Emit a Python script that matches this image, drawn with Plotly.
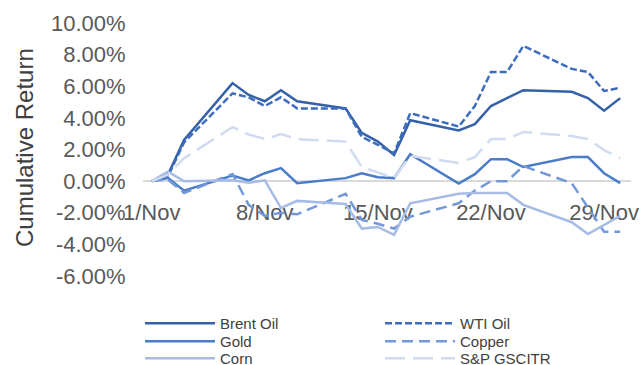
import plotly.graph_objects as go

# Trading days, November 2017
dates = ["2017-11-01", "2017-11-02", "2017-11-03", "2017-11-06", "2017-11-07",
         "2017-11-08", "2017-11-09", "2017-11-10", "2017-11-13", "2017-11-14",
         "2017-11-15", "2017-11-16", "2017-11-17", "2017-11-20", "2017-11-21",
         "2017-11-22", "2017-11-23", "2017-11-24", "2017-11-27", "2017-11-28",
         "2017-11-29", "2017-11-30"]

# Cumulative returns, in percent
brent = [0, 0.4, 2.6, 6.2, 5.45, 5.05, 5.75, 5.05, 4.6, 3.05, 2.5, 1.65, 3.85,
         3.2, 3.6, 4.75, None, 5.75, 5.65, 5.25, 4.45, 5.25]
wti = [0, 0.3, 2.45, 5.55, 5.3, 4.75, 5.3, 4.6, 4.6, 2.8, 2.3, 1.75, 4.3,
       3.45, 4.75, 6.9, 6.9, 8.55, 7.1, 6.9, 5.7, 5.9]
gold = [0, 0.2, -0.6, 0.35, 0.05, 0.5, 0.82, -0.13, 0.19, 0.5, 0.25, 0.19, 1.7,
        -0.16, 0.44, 1.39, 1.39, 0.89, 1.52, 1.52, 0.5, -0.13]
copper = [0, 0.1, -0.75, 0.45, -1.5, -2.2, -2.0, -2.1, -0.8, -2.45, -2.7, -3.0,
          -2.25, -1.4, -0.6, 0.0, 0.0, 0.95, -0.13, -1.65, -3.2, -3.2]
corn = [0, 0.6, 0.0, 0.05, -0.1, 0.05, -1.7, -1.25, -1.45, -3.0, -2.9, -3.4,
        -1.4, -0.8, -0.75, -0.75, -0.75, -1.5, -2.6, -3.35, -2.75, -2.2]
gsci = [0, 0.4, 1.45, 3.42, 2.95, 2.66, 2.97, 2.66, 2.5, 0.89, 0.55, 0.19, 1.6,
        1.15, 1.52, 2.66, 2.66, 3.1, 2.85, 2.66, 1.96, 1.46]

x_tick_dates = ["2017-11-01", "2017-11-08", "2017-11-15", "2017-11-22", "2017-11-29"]
x_tick_labels = ["1/Nov", "8/Nov", "15/Nov", "22/Nov", "29/Nov"]
y_ticks = [-6, -4, -2, 0, 2, 4, 6, 8, 10]
y_tick_labels = [f"{v:.2f}%" for v in y_ticks]
y_title = "Cumulative Return"

FONT = "Liberation Sans, Arial, sans-serif"
W, H = 641, 365
M_L, M_R, M_T, M_B = 143, 10, 23, 89
PW, PH = W - M_L - M_R, H - M_T - M_B

# name, values, colour, dash pattern, legend column (px), legend row (px)
series = [
    ("Brent Oil", brent, "#3561a8", "solid", 140, 307),
    ("WTI Oil", wti, "#3d6cbd", "7px,3px", 380, 307),
    ("Gold", gold, "#4a7cc9", "solid", 140, 325),
    ("Copper", copper, "#7398d8", "11px,6px", 380, 325),
    ("Corn", corn, "#a6bce6", "solid", 140, 342),
    ("S&P GSCITR", gsci, "#cfdbf0", "20px,8px", 380, 342),
]

fig = go.Figure()
legends = {}
for i, (name, vals, color, dash, lx, ly) in enumerate(series):
    key = "legend" if i == 0 else f"legend{i + 1}"
    fig.add_trace(go.Scatter(
        x=dates, y=vals, name=name, mode="lines", connectgaps=True,
        line=dict(color=color, width=2.5, dash=dash),
        legend=key,
    ))
    legends[key] = dict(
        xref="container", yref="container",
        x=lx / W, y=1 - ly / H, xanchor="left", yanchor="top",
        font=dict(size=15, color="#404040", family=FONT),
        itemwidth=70, bgcolor="rgba(0,0,0,0)",
    )

fig.update_layout(
    width=W, height=H,
    margin=dict(l=M_L, r=M_R, t=M_T, b=M_B, autoexpand=False),
    paper_bgcolor="white", plot_bgcolor="white",
    font=dict(family=FONT, color="#595959"),
    xaxis=dict(
        type="date",
        range=["2017-10-31 11:00", "2017-11-30 16:00"],
        tickmode="array", tickvals=x_tick_dates, ticktext=x_tick_labels,
        tickfont=dict(size=22, color="#595959"),
        tickangle=0,
        anchor="free", position=0.375,
        showline=True, linecolor="#d9d9d9", linewidth=2,
        showgrid=False, zeroline=False,
        ticks="outside", ticklen=0, ticklabelstandoff=11,
        layer="below traces",
    ),
    yaxis=dict(
        range=[-6, 10],
        tickmode="array", tickvals=y_ticks, ticktext=y_tick_labels,
        tickfont=dict(size=22, color="#595959"),
        showgrid=False, zeroline=False, showline=False,
        ticks="outside", ticklen=0, ticklabelstandoff=12,
    ),
    annotations=[dict(
        text=y_title, textangle=-90,
        xref="paper", yref="paper",
        x=(24 - M_L) / PW, y=(H - M_B - 148) / PH,
        xanchor="center", yanchor="middle",
        showarrow=False, font=dict(size=24, color="#404040", family=FONT),
    )],
    showlegend=True,
    **legends,
)

fig.write_html("out.html")
